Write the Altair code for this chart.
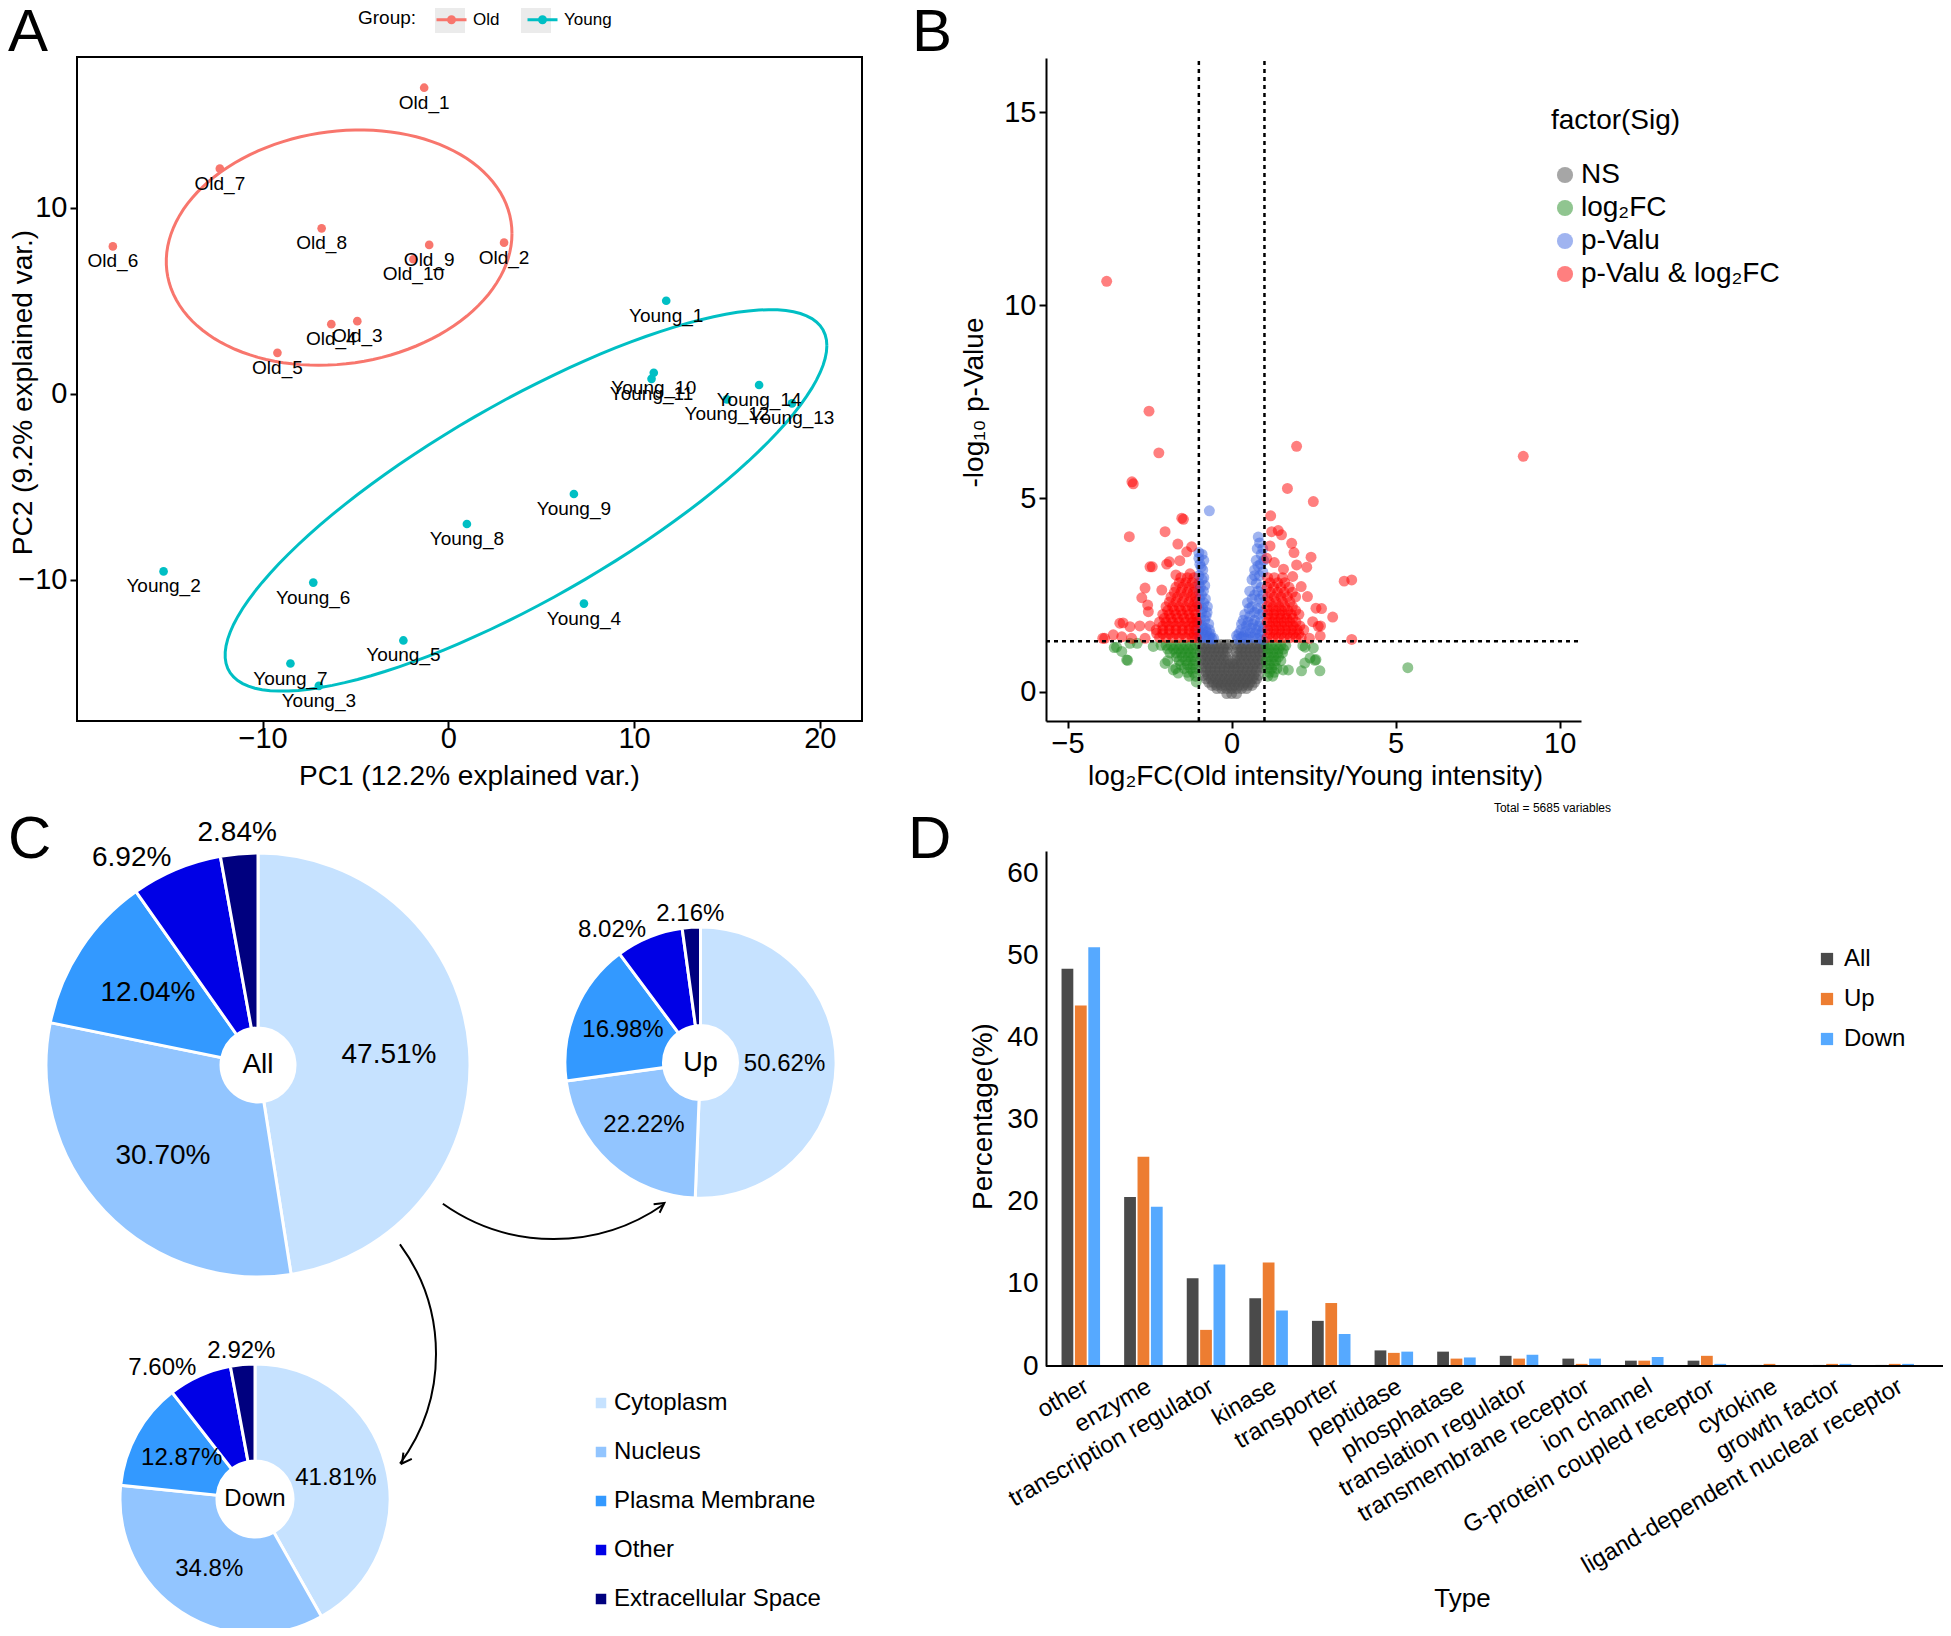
import numpy as np
import pandas as pd
import altair as alt

W, H = 1935, 1620
FONT = "Liberation Sans"


def P(v):
    """page pixel -> chart pixel (8px page margin, chart padding 0)"""
    return v - 8


one = pd.DataFrame({"k": [0]})

# ---------------------------------------------------------------- Panel A data
pca_sample = ["Old_1", "Old_2", "Old_3", "Old_4", "Old_5", "Old_6", "Old_7", "Old_8", "Old_9", "Old_10",
              "Young_1", "Young_2", "Young_3", "Young_4", "Young_5", "Young_6", "Young_7", "Young_8",
              "Young_9", "Young_10", "Young_11", "Young_12", "Young_13", "Young_14"]
pca_pc1 = [-1.30, 3.00, -4.90, -6.30, -9.20, -18.06, -12.30, -6.82, -1.03, -1.88,
           11.73, -15.33, -6.97, 7.30, -2.42, -7.27, -8.50, 1.00, 6.76, 11.06, 10.94, 15.00, 18.50, 16.73]
pca_pc2 = [16.45, 8.12, 3.90, 3.74, 2.20, 7.92, 12.10, 8.89, 8.00, 7.23,
           5.00, -9.55, -15.70, -11.28, -13.26, -10.15, -14.50, -7.00, -5.39, 1.13, 0.80, -0.30, -0.52, 0.47]
pca_group = ["Old"] * 10 + ["Young"] * 14
group_levels = ["Old", "Young"]
group_colors = ["#F8766D", "#00BFC4"]
group_title = "Group:"

# ---------------------------------------------------------------- Panel B data
sig_levels = ["NS", "log\u2082FC", "p-Valu", "p-Valu & log\u2082FC"]
sig_colors = ["#4D4D4D", "#228B22", "#4169E1", "#FF0000"]

# NS (grey) core, read row by row from the dense V-shaped blob
ns_rows_y = [1.22, 1.12, 1.02, 0.92, 0.82, 0.72, 0.62, 0.52, 0.42, 0.33, 0.24, 0.16, 0.08, -0.05]
ns_rows_x = [
    [-0.97, -0.84, -0.71, -0.58, -0.45, -0.32, -0.19, -0.08, 0.12, 0.24, 0.37, 0.5, 0.63, 0.76, 0.89, 0.98],
    [-0.9, -0.77, -0.64, -0.51, -0.38, -0.25, -0.13, 0.18, 0.31, 0.44, 0.57, 0.7, 0.83, 0.95],
    [-0.96, -0.82, -0.68, -0.54, -0.4, -0.26, -0.13, 0.14, 0.28, 0.42, 0.56, 0.7, 0.84, 0.96],
    [-0.89, -0.75, -0.61, -0.47, -0.33, -0.19, 0.17, 0.31, 0.45, 0.59, 0.73, 0.87],
    [-0.94, -0.8, -0.66, -0.52, -0.38, -0.24, -0.1, 0.1, 0.24, 0.38, 0.52, 0.66, 0.8, 0.94],
    [-0.87, -0.73, -0.59, -0.45, -0.31, -0.17, -0.05, 0.05, 0.15, 0.29, 0.43, 0.57, 0.71, 0.85],
    [-0.92, -0.78, -0.64, -0.5, -0.36, -0.22, -0.08, 0.08, 0.22, 0.36, 0.5, 0.64, 0.78, 0.92],
    [-0.79, -0.65, -0.51, -0.37, -0.23, -0.09, 0.05, 0.19, 0.33, 0.47, 0.61, 0.75],
    [-0.86, -0.72, -0.58, -0.44, -0.3, -0.16, -0.02, 0.12, 0.26, 0.4, 0.54, 0.68, 0.82],
    [-0.78, -0.63, -0.49, -0.35, -0.21, -0.07, 0.07, 0.21, 0.35, 0.49, 0.63, 0.76],
    [-0.7, -0.56, -0.42, -0.28, -0.14, 0.0, 0.14, 0.28, 0.42, 0.56, 0.7],
    [-0.6, -0.46, -0.32, -0.18, -0.04, 0.08, 0.22, 0.36, 0.5, 0.62],
    [-0.45, -0.3, -0.15, 0.0, 0.15, 0.3, 0.45],
    [-0.15, 0.0, 0.15],
]

fc_only_x = [-3.58, -3.35, -3.2, -3.1, -2.88, -2.39, -2.03, -1.78, -1.63, -3.51, -3.17,
             2.17, 2.49, 2.39, 2.57, 2.23, 2.13, 2.69, 1.57, 1.73, 5.37, 2.24, 2.54]
fc_only_y = [1.14, 1.04, 0.82, 1.25, 1.25, 1.17, 0.73, 0.56, 0.48, 1.15, 0.81,
             1.19, 1.13, 0.87, 0.83, 0.74, 0.54, 0.54, 0.56, 0.56, 0.62, 1.15, 0.81]
fc_rows_y = [1.2, 1.1, 1.0, 0.9, 0.8, 0.7, 0.6, 0.5, 0.4, 0.25]
fc_rows_x = [
    [-1.1, -1.25, -1.4, -1.55, -1.7, -1.85, -2.0, -2.15, 1.05, 1.2, 1.35, 1.5, 1.65],
    [-1.17, -1.32, -1.47, -1.62, -1.77, -1.95, 1.12, 1.28, 1.43, 1.58],
    [-1.1, -1.25, -1.4, -1.55, -1.7, -1.88, 1.1, 1.25, 1.4, 1.55],
    [-1.17, -1.32, -1.5, -1.68, 1.12, 1.28, 1.43],
    [-1.1, -1.25, -1.4, -1.6, -1.95, 1.05, 1.2, 1.35, 1.5],
    [-1.17, -1.35, -1.55, 1.15, 1.3],
    [-1.1, -1.25, -1.45, -1.7, 1.08, 1.22, 1.38],
    [-1.17, -1.35, 1.15, 1.3],
    [-1.1, -1.3, 1.1, 1.25],
    [-1.08],
]

p_only_x = [-1.0, -0.9, -0.85, -0.97, -0.88, -1.0, -0.9, -0.82, -1.0, -0.92, -0.8, -1.0, -0.88,
            -0.75, -0.95, -0.82, -0.7, -1.0, -0.88, -0.76, -0.65, -0.95, -0.82, -0.7, -0.6, -0.68,
            -1.0, -0.93, -1.0, -0.95, -0.86, -0.98, -0.85, -0.92, -0.78, -1.0, -0.9, -0.8, -0.68,
            -0.9, -0.78, -0.66, -0.55, -1.0, -0.74, -0.85,
            0.81, 0.85, 0.78, 0.9, 0.75, 0.88, 0.7, 0.85, 0.62, 0.75, 0.9, 0.55, 0.7, 0.85, 0.48,
            0.62, 0.78, 0.95, 0.4, 0.55, 0.7, 0.87, 0.3, 0.45, 0.6, 0.75, 0.92, 0.22, 0.36, 0.5,
            0.65, 0.8, 0.95, 0.18,
            0.95, 0.98, 0.8, 0.95, 0.7, 0.8, 0.95, 0.62, 0.92, 0.53, 0.7, 0.85, 0.35, 0.5, 0.65,
            0.82, 0.97, 0.28, 0.42, 0.57, 0.72, 0.87, 0.15, 0.3, 0.45]
p_only_y = [3.6, 3.55, 3.4, 3.3, 3.15, 3.0, 2.9, 2.75, 2.6, 2.5, 2.4, 2.2, 2.15,
            2.05, 1.9, 1.85, 1.75, 1.6, 1.6, 1.55, 1.5, 1.4, 1.4, 1.38, 1.36, 4.68,
            3.45, 3.22, 2.8, 2.7, 2.6, 2.4, 2.3, 2.05, 1.95, 1.75, 1.7, 1.65, 1.6,
            1.5, 1.45, 1.42, 1.38, 1.45, 2.2, 2.95,
            4.0, 3.85, 3.7, 3.55, 3.4, 3.3, 3.15, 3.0, 2.9, 2.8, 2.7, 2.6, 2.5, 2.4, 2.3,
            2.2, 2.15, 2.05, 2.0, 1.95, 1.85, 1.8, 1.75, 1.7, 1.65, 1.6, 1.55, 1.5, 1.45, 1.42,
            1.4, 1.38, 1.35, 1.36,
            3.7, 3.4, 3.25, 3.1, 3.0, 2.6, 2.5, 2.4, 2.3, 2.15, 2.05, 2.0, 1.85, 1.8, 1.75,
            1.7, 1.65, 1.6, 1.55, 1.52, 1.5, 1.47, 1.45, 1.4, 1.36]

both_x = [-3.81, -2.52, -2.22, -3.04, -3.0, -1.52, -1.47, -3.12, -2.03, -1.64, -1.37, -1.22, -2.49,
          -2.42, -1.98, -1.90, -1.58, -1.70, -1.27, -2.64, -2.74, -2.56, -2.54, -2.13, -3.41, -3.10,
          -2.80, -2.49, -3.61, -3.93, -3.35, -3.05, -2.64, -2.29, -3.31, -3.87,
          8.89, 1.98, 1.70, 2.49, 1.19, 1.22, 1.42, 1.52, 1.17, 1.83, 1.90, 2.42, 1.07, 1.30, 1.58,
          1.98, 2.29, 3.43, 3.66, 1.86, 2.12, 2.31, 2.57, 3.08, 2.71, 2.47, 2.70, 2.37, 3.66, 2.64, 2.74]
both_y = [10.62, 7.26, 6.18, 5.43, 5.38, 4.49, 4.46, 4.01, 4.14, 3.82, 3.62, 3.75, 3.23,
          3.23, 3.30, 3.36, 3.39, 3.02, 3.05, 2.68, 2.43, 2.24, 2.07, 2.63, 1.77, 1.68,
          1.70, 1.70, 1.47, 1.38, 1.42, 1.38, 1.38, 1.51, 1.78, 1.38,
          6.09, 6.35, 5.26, 4.92, 4.55, 4.14, 4.17, 4.06, 3.77, 3.84, 3.60, 3.48, 3.45, 3.34, 3.17,
          3.28, 3.22, 2.86, 2.89, 2.98, 2.72, 2.46, 2.16, 1.93, 1.70, 1.81, 1.44, 1.38, 1.35, 1.69, 2.15]
both_rows_y = [1.4, 1.5, 1.6, 1.7, 1.8, 1.9, 2.0, 2.1, 2.2, 2.32, 2.45, 2.57, 2.7, 2.82, 2.95]
both_rows_x = [
    [-2.2, -2.0, -1.8, -1.6, -1.4, -1.2, -1.08, 1.08, 1.25, 1.42, 1.6, 1.78, 1.96, 2.12],
    [-2.1, -1.9, -1.7, -1.5, -1.3, -1.15, 1.17, 1.35, 1.52, 1.7, 1.88, 2.05],
    [-2.3, -2.1, -1.9, -1.7, -1.5, -1.3, -1.1, 1.1, 1.28, 1.46, 1.64, 1.82, 2.0, 2.2],
    [-2.1, -1.9, -1.7, -1.5, -1.3, -1.15, 1.17, 1.35, 1.52, 1.7, 1.88, 2.08],
    [-2.2, -2.0, -1.8, -1.6, -1.4, -1.2, -1.07, 1.08, 1.25, 1.42, 1.6, 1.78, 1.96],
    [-2.05, -1.85, -1.65, -1.45, -1.25, -1.1, 1.15, 1.33, 1.5, 1.68, 1.86],
    [-2.1, -1.9, -1.7, -1.5, -1.3, -1.1, 1.1, 1.28, 1.46, 1.64, 1.82, 2.05],
    [-1.95, -1.75, -1.55, -1.35, -1.15, 1.15, 1.35, 1.53, 1.72, 1.95],
    [-2.0, -1.8, -1.6, -1.4, -1.2, -1.07, 1.08, 1.26, 1.44, 1.62, 1.85],
    [-1.9, -1.7, -1.5, -1.3, -1.12, 1.15, 1.35, 1.55, 1.78],
    [-1.85, -1.65, -1.45, -1.25, -1.1, 1.1, 1.3, 1.5, 1.7, 1.95],
    [-1.75, -1.55, -1.35, -1.17, 1.18, 1.4, 1.6, 1.85],
    [-1.7, -1.5, -1.3, -1.12, 1.08, 1.28, 1.5, 1.75],
    [-1.6, -1.4, -1.2, 1.17, 1.4, 1.62],
    [-1.55, -1.35, -1.15, 1.1, 1.3, 1.55],
]
fc_cutoffs = [-1.0, 1.0]
p_cutoff = 1.301  # -log10(0.05)

# ---------------------------------------------------------------- Panel C data
loc_cats = ["Cytoplasm", "Nucleus", "Plasma Membrane", "Other", "Extracellular Space"]
loc_colors = ["#C6E2FF", "#92C5FF", "#3399FF", "#0000E6", "#00007F"]
pie_names = ["All", "Up", "Down"]
pie_all = [47.51, 30.70, 12.04, 6.92, 2.84]
pie_all_lbl = ["47.51%", "30.70%", "12.04%", "6.92%", "2.84%"]
pie_up = [50.62, 22.22, 16.98, 8.02, 2.16]
pie_up_lbl = ["50.62%", "22.22%", "16.98%", "8.02%", "2.16%"]
pie_down = [41.81, 34.8, 12.87, 7.60, 2.92]
pie_down_lbl = ["41.81%", "34.8%", "12.87%", "7.60%", "2.92%"]

# ---------------------------------------------------------------- Panel D data
fa_types = ["other", "enzyme", "transcription regulator", "kinase", "transporter", "peptidase",
            "phosphatase", "translation regulator", "transmembrane receptor", "ion channel",
            "G-protein coupled receptor", "cytokine", "growth factor", "ligand-dependent nuclear receptor"]
fa_all = [48.4, 20.6, 10.7, 8.26, 5.5, 1.9, 1.75, 1.24, 0.9, 0.65, 0.65, 0.13, 0.13, 0.13]
fa_up = [43.9, 25.5, 4.4, 12.6, 7.67, 1.6, 0.9, 0.9, 0.26, 0.65, 1.24, 0.26, 0.26, 0.26]
fa_down = [51.0, 19.4, 12.35, 6.76, 3.9, 1.75, 1.04, 1.37, 0.9, 1.1, 0.26, 0.0, 0.26, 0.26]
fa_groups = ["All", "Up", "Down"]
fa_colors = ["#4A4A4A", "#ED7D31", "#56A9FF"]

panel_letters = ["A", "B", "C", "D"]
total_caption = "Total = 5685 variables"


# ================================================================= Panel A
def data_ellipse(xs, ys, prob=0.68, n=120):
    xs = np.asarray(xs, float)
    ys = np.asarray(ys, float)
    mu = np.array([xs.mean(), ys.mean()])
    sigma = np.cov(np.vstack([xs, ys]))
    U = np.linalg.cholesky(sigma).T
    ed = np.sqrt(-2.0 * np.log(1.0 - prob))
    t = np.linspace(0, 2 * np.pi, n)
    circ = np.column_stack([np.cos(t), np.sin(t)])
    pts = circ @ U * ed + mu
    return pts[:, 0], pts[:, 1]


dfA = pd.DataFrame({"sample": pca_sample, "group": pca_group, "PC1": pca_pc1, "PC2": pca_pc2})
rows = []
for g in group_levels:
    sub = dfA[dfA.group == g]
    ex, ey = data_ellipse(sub.PC1.values, sub.PC2.values)
    for i, (a, b) in enumerate(zip(ex, ey)):
        rows.append({"group": g, "PC1": a, "PC2": b, "i": i})
dfE = pd.DataFrame(rows)

xA = alt.Scale(domain=[-19.99, 22.27], range=[P(77), P(862)], nice=False, zero=False)
yA = alt.Scale(domain=[-17.59, 18.1], range=[P(721), P(57)], nice=False, zero=False)
colA = alt.Scale(domain=group_levels, range=group_colors)

axA_x = alt.Axis(orient="bottom", offset=-(H - P(721)), values=[-10, 0, 10, 20], domain=False,
                 labelFontSize=29, tickSize=7, labelPadding=-4, title="PC1 (12.2% explained var.)",
                 titleFontSize=28, titleX=P(469), titleY=55, titleBaseline="middle")
axA_y = alt.Axis(orient="left", offset=-P(77), values=[-10, 0, 10], domain=False,
                 labelFontSize=29, tickSize=7, labelPadding=3, title="PC2 (9.2% explained var.)",
                 titleFontSize=28, titleX=23 - 77, titleY=P(392), titleBaseline="middle")

legA = alt.Legend(orient="none", legendX=P(435), legendY=P(3), direction="horizontal", title=None,
                  labelFontSize=17, labelOffset=5, columnPadding=21, labelLimit=0,
                  symbolType="M-1,0L1,0M-0.2,0A0.2,0.2,0,1,0,0.2,0A0.2,0.2,0,1,0,-0.2,0",
                  symbolSize=900, symbolStrokeWidth=3, zindex=2)

ellA = alt.Chart(dfE).mark_line(strokeWidth=3).encode(
    x=alt.X("PC1:Q", scale=xA, axis=axA_x), y=alt.Y("PC2:Q", scale=yA, axis=axA_y),
    color=alt.Color("group:N", scale=colA, legend=legA), order="i:Q", detail="group:N")
ptsA = alt.Chart(dfA).mark_circle(size=75, opacity=1).encode(
    x=alt.X("PC1:Q", scale=xA, axis=axA_x), y=alt.Y("PC2:Q", scale=yA, axis=axA_y),
    color=alt.Color("group:N", scale=colA, legend=None))
lblA = alt.Chart(dfA).mark_text(dy=15, fontSize=19, color="black").encode(
    x=alt.X("PC1:Q", scale=xA, axis=axA_x), y=alt.Y("PC2:Q", scale=yA, axis=axA_y), text="sample:N")
boxA = alt.Chart(one).mark_rect(fillOpacity=0, stroke="black", strokeWidth=2).encode(
    x=alt.XDatum(-19.99, axis=axA_x), x2=alt.X2Datum(22.27),
    y=alt.YDatum(-17.59, axis=axA_y), y2=alt.Y2Datum(18.1))
panelA = alt.layer(ellA, ptsA, lblA, boxA)

# ================================================================= Panel B
vol = []
for yv, xs in zip(ns_rows_y, ns_rows_x):
    vol += [(x, yv, sig_levels[0]) for x in xs]
vol += [(x, y, sig_levels[1]) for x, y in zip(fc_only_x, fc_only_y)]
for yv, xs in zip(fc_rows_y, fc_rows_x):
    vol += [(x, yv, sig_levels[1]) for x in xs]
vol += [(x, y, sig_levels[2]) for x, y in zip(p_only_x, p_only_y)]
vol += [(x, y, sig_levels[3]) for x, y in zip(both_x, both_y)]
for yv, xs in zip(both_rows_y, both_rows_x):
    vol += [(x, yv, sig_levels[3]) for x in xs]
dfB = pd.DataFrame(vol, columns=["log2FC", "nlogp", "Sig"])
dfB["ord"] = np.arange(len(dfB))

xB = alt.Scale(domain=[-5.66, 10.65], range=[P(1046), P(1581)], nice=False, zero=False)
yB = alt.Scale(domain=[-0.76, 16.4], range=[P(721), P(58)], nice=False, zero=False)
colB = alt.Scale(domain=sig_levels, range=sig_colors)

axB_x = alt.Axis(orient="bottom", offset=-(H - P(721)), values=[-5, 0, 5, 10], domain=True,
                 labelFontSize=29, tickSize=7, labelPadding=1,
                 title="log\u2082FC(Old intensity/Young intensity)", titleFontSize=28,
                 titleX=P(1315), titleY=55, titleBaseline="middle")
axB_y = alt.Axis(orient="left", offset=-P(1046), values=[0, 5, 10, 15], domain=True,
                 labelFontSize=29, tickSize=7, labelPadding=3, title="-log\u2081\u2080 p-Value",
                 titleFontSize=28, titleX=974 - 1046, titleY=P(402), titleBaseline="middle")
legB = alt.Legend(orient="none", legendX=P(1551), legendY=P(107), title="factor(Sig)",
                  titleFontSize=28, labelFontSize=28, symbolType="circle", symbolSize=260,
                  titlePadding=26, rowPadding=5, labelOffset=2, symbolStrokeWidth=0, labelLimit=0)

ptsB = alt.Chart(dfB).mark_circle(size=120, opacity=0.5).encode(
    x=alt.X("log2FC:Q", scale=xB, axis=axB_x), y=alt.Y("nlogp:Q", scale=yB, axis=axB_y),
    color=alt.Color("Sig:N", scale=colB, legend=legB), order="ord:Q")
vB = alt.Chart(pd.DataFrame({"fc": fc_cutoffs})).mark_rule(
    strokeDash=[4, 4], strokeWidth=2.5, color="black").encode(
    x=alt.X("fc:Q", scale=xB, axis=axB_x), y=alt.YDatum(-0.76, axis=axB_y), y2=alt.Y2Datum(16.4))
hB = alt.Chart(one).mark_rule(strokeDash=[4, 4], strokeWidth=2.5, color="black").encode(
    y=alt.YDatum(p_cutoff, axis=axB_y), x=alt.XDatum(-5.66, axis=axB_x), x2=alt.X2Datum(10.65))
panelB = alt.layer(ptsB, vB, hB)

# ================================================================= Panel C
colC = alt.Scale(domain=loc_cats, range=loc_colors)
legC = alt.Legend(orient="none", legendX=P(589), legendY=P(1391), title=None, symbolType="square",
                  symbolSize=110, labelFontSize=24, rowPadding=25, labelOffset=1, symbolStrokeWidth=0,
                  labelLimit=0)


def pie(vals, lbls, name, cx, cy, r, r0, fs_lbl, fs_name, legend):
    df = pd.DataFrame({"cat": loc_cats, "idx": list(range(len(loc_cats))), "value": vals, "lbl": lbls})
    base = alt.Chart(df).encode(theta=alt.Theta("value:Q", stack=True), order=alt.Order("idx:Q"))
    arc = base.mark_arc(x=P(cx), y=P(cy), outerRadius=r, innerRadius=r0, stroke="white",
                        strokeWidth=3).encode(color=alt.Color("cat:N", scale=colC, legend=legend))
    t_in = base.transform_calculate(t="datum.value >= 10 ? datum.lbl : ''").mark_text(
        x=P(cx), y=P(cy), radius=0.62 * r, fontSize=fs_lbl, color="black").encode(
        text="t:N", detail="cat:N")
    # "Other" slice label: outside, right-aligned
    t_out1 = base.transform_calculate(t="datum.idx == 3 ? datum.lbl : ''").mark_text(
        x=P(cx), y=P(cy), radius=1.06 * r, fontSize=fs_lbl, color="black", align="right").encode(
        text="t:N", detail="cat:N")
    # "Extracellular Space" slice label: outside, centred
    t_out2 = base.transform_calculate(t="datum.idx == 4 ? datum.lbl : ''").mark_text(
        x=P(cx), y=P(cy), radius=1.1 * r, fontSize=fs_lbl, color="black").encode(
        text="t:N", detail="cat:N")
    ctr = alt.Chart(pd.DataFrame({"name": [name]})).mark_text(
        x=P(cx), y=P(cy), fontSize=fs_name, color="black").encode(text="name:N")
    return [arc, t_in, t_out1, t_out2, ctr]


arrow_arcs = [
    alt.Chart(one).mark_arc(innerRadius=192, outerRadius=192, theta=2.53, theta2=3.757,
                            fillOpacity=0, stroke="black", strokeWidth=2).encode(
        x=alt.value(P(553.7)), y=alt.value(P(1047))),
    alt.Chart(one).mark_arc(innerRadius=185, outerRadius=185, theta=0.936, theta2=2.205,
                            fillOpacity=0, stroke="black", strokeWidth=2).encode(
        x=alt.value(P(251)), y=alt.value(P(1354))),
]
head = "M-0.6,1.1L0,0L0.6,1.1"
arrow_heads = [
    alt.Chart(one).mark_point(shape=head, size=300, angle=55, filled=False, opacity=1,
                              stroke="black", strokeWidth=2).encode(
        x=alt.value(P(664.4)), y=alt.value(P(1203))),
    alt.Chart(one).mark_point(shape=head, size=300, angle=216, filled=False, opacity=1,
                              stroke="black", strokeWidth=2).encode(
        x=alt.value(P(402)), y=alt.value(P(1463.5))),
]

panelC = alt.layer(
    *pie(pie_all, pie_all_lbl, pie_names[0], 258, 1065, 212, 37, 28, 28, legC),
    *pie(pie_up, pie_up_lbl, pie_names[1], 700.5, 1062.6, 135.6, 37, 24, 27, None),
    *pie(pie_down, pie_down_lbl, pie_names[2], 255, 1499, 135, 38, 24, 24, None),
    *arrow_arcs, *arrow_heads,
).resolve_scale(theta="independent")

# ================================================================= Panel D
recs = []
for grp, vals in zip(fa_groups, [fa_all, fa_up, fa_down]):
    for t, v in zip(fa_types, vals):
        recs.append({"Type": t, "Group": grp, "Pct": v})
dfD = pd.DataFrame(recs)

xD = alt.Scale(domain=fa_types, range=[P(1049.5), P(1926)], paddingInner=0, paddingOuter=0)
xoD = alt.Scale(domain=fa_groups, paddingInner=0.12, paddingOuter=0.9)
yD = alt.Scale(domain=[0, 62.73], range=[P(1366), P(851)], nice=False, zero=False)
colD = alt.Scale(domain=fa_groups, range=fa_colors)

axD_x = alt.Axis(orient="bottom", offset=-(H - P(1366)), labelAngle=-30, labelAlign="right",
                 labelBaseline="top", labelFontSize=24, labelLimit=0, ticks=False, domain=False,
                 labelPadding=8, title="Type", titleFontSize=26, titleX=P(1462), titleY=232,
                 titleBaseline="middle")
axD_y = alt.Axis(orient="left", offset=-P(1046), values=[0, 10, 20, 30, 40, 50, 60], ticks=False,
                 domain=True, labelFontSize=28, labelPadding=8, title="Percentage(%)",
                 titleFontSize=28, titleX=983 - 1046, titleY=P(1116), titleBaseline="middle")
legD = alt.Legend(orient="none", legendX=P(1815), legendY=P(947), title=None, symbolType="square",
                  symbolSize=150, labelFontSize=24, rowPadding=16, labelOffset=5, symbolStrokeWidth=0,
                  labelLimit=0)

barsD = alt.Chart(dfD).mark_bar().encode(
    x=alt.X("Type:N", scale=xD, axis=axD_x, sort=fa_types),
    xOffset=alt.XOffset("Group:N", scale=xoD, sort=fa_groups),
    y=alt.Y("Pct:Q", scale=yD, axis=axD_y),
    color=alt.Color("Group:N", scale=colD, legend=legD, sort=fa_groups))
baseD = alt.Chart(one).mark_rule(color="black", strokeWidth=2).encode(
    y=alt.YDatum(0, axis=axD_y), x=alt.value(P(1046)), x2=alt.value(P(1947)))
panelD = alt.layer(barsD, baseD)

# ================================================================= annotations
keys = alt.layer(*[
    alt.Chart(one).mark_rect(color="#EBEBEB").encode(
        x=alt.value(P(x0)), x2=alt.value(P(x0 + 30)), y=alt.value(P(3)), y2=alt.value(P(33)))
    for x0 in (435, 521)
])
group_lbl = alt.Chart(one).mark_text(fontSize=19, align="left", baseline="middle", color="black").encode(
    x=alt.value(P(358)), y=alt.value(P(18)), text=alt.value(group_title))
letter_pos = [(8, 51), (912, 51), (8, 858), (908, 858)]
letters = [
    alt.Chart(one).mark_text(fontSize=60, align="left", baseline="alphabetic", color="black").encode(
        x=alt.value(P(px)), y=alt.value(P(py)), text=alt.value(t))
    for t, (px, py) in zip(panel_letters, letter_pos)
]
caption = alt.Chart(one).mark_text(fontSize=12, align="right", baseline="middle", color="black").encode(
    x=alt.value(P(1611)), y=alt.value(P(808)), text=alt.value(total_caption))

chart = alt.layer(
    keys, group_lbl, panelA, panelB, panelC, panelD, *letters, caption
).resolve_scale(
    x="independent", y="independent", color="independent", theta="independent", xOffset="independent"
).properties(
    width=W, height=H, padding=0, autosize=alt.AutoSizeParams(type="none"), background="white"
).configure(font=FONT).configure_view(stroke=None).configure_axis(
    grid=False, labelColor="black", titleColor="black", tickColor="black", domainColor="black",
    domainWidth=2, tickWidth=2, titleFontWeight="normal", labelFont=FONT, titleFont=FONT
).configure_legend(
    labelFont=FONT, titleFont=FONT, titleFontWeight="normal", labelColor="black", titleColor="black",
    padding=0
).configure_text(font=FONT)

chart.save("out.html", embed_options={"renderer": "svg", "actions": False})
